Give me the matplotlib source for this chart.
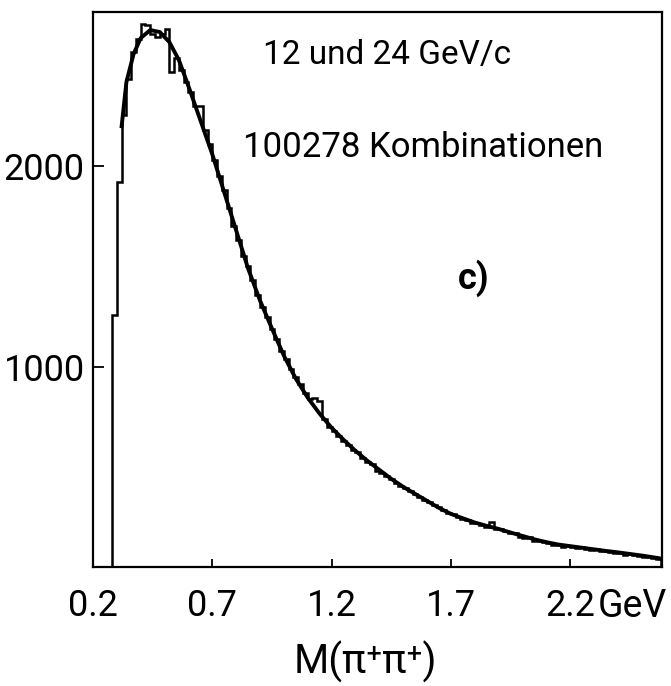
import numpy as np
import matplotlib
matplotlib.use("Agg")
import matplotlib.pyplot as plt

plt.rcParams['font.family'] = ['Roboto', 'DejaVu Sans']

# histogram M(pi+ pi+), bins of 20 MeV starting at 0.28 GeV
bin_start = 0.28
bin_width = 0.02
counts = [
    1260, 1920, 2255, 2435, 2570, 2635, 2710, 2705, 2660, 2645,
    2660, 2685, 2470, 2540, 2480, 2420, 2370, 2300, 2300, 2180,
    2110, 2030, 1950, 1880, 1790, 1700, 1630, 1550, 1500, 1430,
    1360, 1300, 1250, 1190, 1140, 1080, 1040, 990, 950, 915,
    870, 840, 845, 830, 740, 700, 680, 655, 630, 610,
    585, 575, 545, 525, 515, 480, 470, 455, 440, 420,
    405, 395, 380, 365, 350, 335, 325, 310, 300, 285,
    270, 265, 250, 240, 235, 222, 218, 210, 200, 225,
    192, 188, 178, 170, 168, 150, 145, 148, 132, 130,
    124, 120, 112, 110, 100, 105, 102, 96, 98, 90,
    86, 88, 80, 82, 74, 70, 72, 62, 66, 58,
    55, 52, 48, 46, 40,
]

# fitted curve
fit_m = [0.32, 0.34, 0.37, 0.40, 0.44, 0.48, 0.52, 0.56, 0.60, 0.65,
         0.70, 0.75, 0.80, 0.85, 0.90, 0.95, 1.00, 1.05, 1.10, 1.15,
         1.20, 1.25, 1.30, 1.35, 1.40, 1.45, 1.50, 1.55, 1.60, 1.65,
         1.70, 1.75, 1.80, 1.85, 1.90, 1.95, 2.00, 2.05, 2.10, 2.15,
         2.20, 2.25, 2.30, 2.35, 2.40, 2.45, 2.50, 2.55, 2.58]
fit_n = [2200, 2420, 2560, 2640, 2680, 2670, 2620, 2530, 2400, 2230,
         2060, 1870, 1680, 1490, 1330, 1190, 1055, 940, 845, 765,
         695, 635, 580, 530, 485, 440, 400, 365, 330, 295,
         265, 243, 222, 205, 190, 172, 155, 138, 124, 112,
         104, 96, 88, 80, 73, 65, 57, 48, 42]

xticks = [0.2, 0.7, 1.2, 1.7, 2.2]
xticklabels = ['0.2', '0.7', '1.2', '1.7', '2.2']
yticks = [1000, 2000]

edges = bin_start + bin_width * np.arange(len(counts) + 1)

fig = plt.figure(figsize=(6.71, 6.86), dpi=100)
ax = fig.add_axes([0.1386, 0.1735, 0.848, 0.809])

ax.stairs(counts, edges, baseline=0, color='black', lw=1.8)
ax.plot(fit_m, fit_n, color='black', lw=2.8)

ax.set_xlim(0.2, 2.585)
ax.set_ylim(0, 2770)

ax.set_xticks(xticks)
ax.set_xticklabels(xticklabels)
ax.set_yticks(yticks)
ax.tick_params(axis='x', direction='in', length=6, width=1.3, pad=15, labelsize=26)
ax.tick_params(axis='y', direction='in', length=8, width=1.3, pad=6, labelsize=26)
for s in ax.spines.values():
    s.set_linewidth(1.6)

ax.annotate('GeV', xy=(2.2, 0), xycoords=ax.get_xaxis_transform(),
            xytext=(20, -15), textcoords='offset points',
            ha='left', va='top', fontsize=27)

ax.text(0.299, 0.922, '12 und 24 GeV/c', transform=ax.transAxes,
        ha='left', va='center', fontsize=24)
ax.text(0.264, 0.755, '100278 Kombinationen', transform=ax.transAxes,
        ha='left', va='center', fontsize=25)
ax.text(0.641, 0.52, 'c)', transform=ax.transAxes,
        ha='left', va='center', fontsize=26, fontweight='bold')

fig.text(0.545, 0.035, 'M(π⁺π⁺)', ha='center', va='center', fontsize=29)

fig.savefig('out.png', dpi=100)
